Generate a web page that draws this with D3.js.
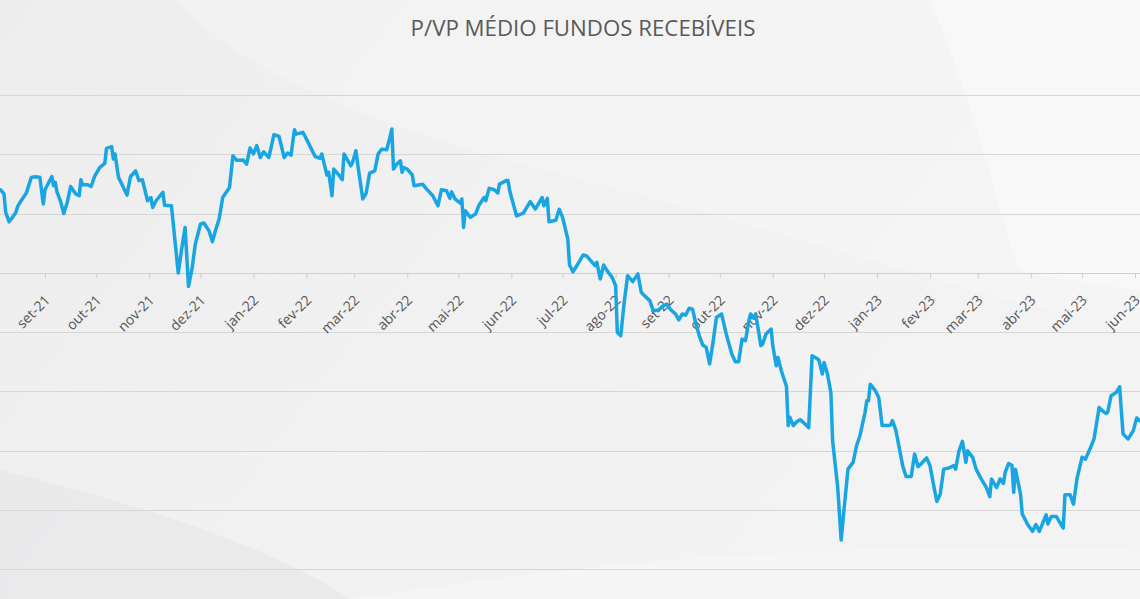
<!DOCTYPE html>
<html>
<head>
<meta charset="utf-8">
<script src="https://cdn.jsdelivr.net/npm/d3@7/dist/d3.min.js"></script>
<style>
  html, body { margin: 0; padding: 0; background: #efefef; overflow: hidden; }
  svg { display: block; }
</style>
</head>
<body>
<svg id="chart" width="1140" height="599"></svg>
<script>
// ---------------- DATA ----------------
const chartTitle = "P/VP MÉDIO FUNDOS RECEBÍVEIS";

const tickDates = [
  "2021-09-01","2021-10-01","2021-11-01","2021-12-01","2022-01-01","2022-02-01",
  "2022-03-01","2022-04-01","2022-05-01","2022-06-01","2022-07-01","2022-08-01",
  "2022-09-01","2022-10-01","2022-11-01","2022-12-01","2023-01-01","2023-02-01",
  "2023-03-01","2023-04-01","2023-05-01","2023-06-01"
];
const tickLabels = [
  "set-21","out-21","nov-21","dez-21","jan-22","fev-22","mar-22","abr-22","mai-22",
  "jun-22","jul-22","ago-22","set-22","out-22","nov-22","dez-22","jan-23","fev-23",
  "mar-23","abr-23","mai-23","jun-23"
];
const gridValues = [0.90, 0.92, 0.94, 0.96, 0.98, 1.00, 1.02, 1.04, 1.06];

const dates = [
  "2021-08-06","2021-08-08","2021-08-09","2021-08-11","2021-08-13","2021-08-15","2021-08-16","2021-08-18",
  "2021-08-21","2021-08-24","2021-08-26","2021-08-29","2021-08-31","2021-09-01","2021-09-05","2021-09-06",
  "2021-09-07","2021-09-08","2021-09-10","2021-09-12","2021-09-14","2021-09-16","2021-09-19","2021-09-21",
  "2021-09-22","2021-09-23","2021-09-26","2021-09-28","2021-09-30","2021-10-03","2021-10-06","2021-10-07",
  "2021-10-10","2021-10-11","2021-10-12","2021-10-14","2021-10-16","2021-10-19","2021-10-21","2021-10-24",
  "2021-10-26","2021-10-28","2021-10-31","2021-11-02","2021-11-03","2021-11-05","2021-11-09","2021-11-10",
  "2021-11-14","2021-11-18","2021-11-20","2021-11-22","2021-11-24","2021-11-26","2021-11-28","2021-12-01",
  "2021-12-03","2021-12-06","2021-12-08","2021-12-10","2021-12-12","2021-12-14","2021-12-18","2021-12-20",
  "2021-12-22","2021-12-26","2021-12-28","2021-12-30","2022-01-01","2022-01-03","2022-01-05","2022-01-07",
  "2022-01-10","2022-01-13","2022-01-16","2022-01-19","2022-01-21","2022-01-23","2022-01-25","2022-01-26",
  "2022-01-30","2022-02-02","2022-02-06","2022-02-09","2022-02-10","2022-02-13","2022-02-14","2022-02-16",
  "2022-02-17","2022-02-20","2022-02-22","2022-02-23","2022-02-27","2022-02-28","2022-03-02","2022-03-03",
  "2022-03-06","2022-03-08","2022-03-10","2022-03-13","2022-03-15","2022-03-17","2022-03-20","2022-03-22",
  "2022-03-23","2022-03-24","2022-03-26","2022-03-28","2022-03-29","2022-03-30","2022-04-01","2022-04-04",
  "2022-04-05","2022-04-10","2022-04-12","2022-04-16","2022-04-19","2022-04-21","2022-04-24","2022-04-26",
  "2022-04-27","2022-04-29","2022-05-02","2022-05-03","2022-05-04","2022-05-05","2022-05-08","2022-05-11",
  "2022-05-13","2022-05-16","2022-05-17","2022-05-19","2022-05-22","2022-05-24","2022-05-25","2022-05-29",
  "2022-05-30","2022-05-31","2022-06-04","2022-06-08","2022-06-12","2022-06-15","2022-06-19","2022-06-20",
  "2022-06-22","2022-06-23","2022-06-27","2022-06-29","2022-07-01","2022-07-04","2022-07-05","2022-07-07",
  "2022-07-09","2022-07-13","2022-07-15","2022-07-18","2022-07-20","2022-07-21","2022-07-23","2022-07-25",
  "2022-07-27","2022-07-30","2022-08-01","2022-08-02","2022-08-04","2022-08-06","2022-08-08","2022-08-11",
  "2022-08-14","2022-08-16","2022-08-18","2022-08-21","2022-08-23","2022-08-26","2022-08-29","2022-08-31",
  "2022-09-02","2022-09-05","2022-09-07","2022-09-09","2022-09-11","2022-09-13","2022-09-15","2022-09-17",
  "2022-09-19","2022-09-21","2022-09-23","2022-09-25","2022-09-27","2022-09-29","2022-10-02","2022-10-05",
  "2022-10-08","2022-10-10","2022-10-12","2022-10-14","2022-10-16","2022-10-18","2022-10-19","2022-10-21",
  "2022-10-22","2022-10-25","2022-10-26","2022-10-28","2022-10-31","2022-11-01","2022-11-03","2022-11-04",
  "2022-11-06","2022-11-09","2022-11-10","2022-11-11","2022-11-13","2022-11-15","2022-11-17","2022-11-20",
  "2022-11-22","2022-11-24","2022-11-27","2022-11-28","2022-11-30","2022-12-01","2022-12-03","2022-12-05",
  "2022-12-06","2022-12-09","2022-12-11","2022-12-13","2022-12-15","2022-12-18","2022-12-20","2022-12-22",
  "2022-12-25","2022-12-26","2022-12-27","2022-12-28","2022-12-31","2023-01-02","2023-01-04","2023-01-08",
  "2023-01-09","2023-01-10","2023-01-12","2023-01-13","2023-01-16","2023-01-18","2023-01-21","2023-01-23",
  "2023-01-25","2023-01-27","2023-01-30","2023-02-01","2023-02-03","2023-02-05","2023-02-07","2023-02-09",
  "2023-02-12","2023-02-15","2023-02-16","2023-02-18","2023-02-20","2023-02-22","2023-02-23","2023-02-26",
  "2023-02-28","2023-03-03","2023-03-06","2023-03-08","2023-03-09","2023-03-12","2023-03-14","2023-03-16",
  "2023-03-17","2023-03-19","2023-03-21","2023-03-22","2023-03-23","2023-03-26","2023-03-27","2023-03-30",
  "2023-04-02","2023-04-04","2023-04-06","2023-04-10","2023-04-11","2023-04-13","2023-04-16","2023-04-20",
  "2023-04-21","2023-04-24","2023-04-26","2023-04-28","2023-05-01","2023-05-03","2023-05-06","2023-05-08",
  "2023-05-11","2023-05-13","2023-05-15","2023-05-16","2023-05-18","2023-05-21","2023-05-23","2023-05-25",
  "2023-05-28","2023-05-31","2023-06-02","2023-06-04"
];

const pvp = [
  1.0280,1.0266,1.0204,1.0172,1.0187,1.0204,1.0224,1.0243,
  1.0268,1.0322,1.0324,1.0322,1.0232,1.0280,1.0325,1.0294,
  1.0305,1.0273,1.0243,1.0200,1.0237,1.0291,1.0266,1.0260,
  1.0314,1.0297,1.0297,1.0291,1.0325,1.0355,1.0369,1.0420,
  1.0426,1.0384,1.0401,1.0322,1.0299,1.0262,1.0324,1.0344,
  1.0311,1.0314,1.0243,1.0254,1.0220,1.0243,1.0271,1.0228,
  1.0226,0.9999,1.0080,1.0153,0.9954,1.0012,1.0097,1.0164,
  1.0168,1.0142,1.0105,1.0147,1.0183,1.0254,1.0288,1.0395,
  1.0380,1.0381,1.0367,1.0421,1.0401,1.0429,1.0389,1.0408,
  1.0389,1.0466,1.0460,1.0389,1.0404,1.0397,1.0483,1.0468,
  1.0474,1.0440,1.0393,1.0386,1.0401,1.0330,1.0339,1.0260,
  1.0350,1.0330,1.0314,1.0401,1.0361,1.0372,1.0412,1.0367,
  1.0249,1.0269,1.0336,1.0344,1.0401,1.0417,1.0415,1.0460,
  1.0485,1.0350,1.0367,1.0378,1.0339,1.0355,1.0350,1.0330,
  1.0294,1.0299,1.0285,1.0260,1.0226,1.0280,1.0277,1.0251,
  1.0273,1.0249,1.0235,1.0249,1.0153,1.0209,1.0187,1.0198,
  1.0228,1.0254,1.0243,1.0285,1.0280,1.0269,1.0299,1.0311,
  1.0311,1.0277,1.0192,1.0201,1.0240,1.0215,1.0254,1.0226,
  1.0251,1.0172,1.0177,1.0214,1.0186,1.0114,1.0027,1.0003,
  1.0021,1.0060,1.0057,1.0037,1.0024,1.0035,0.9979,1.0026,
  1.0007,0.9984,0.9956,0.9799,0.9787,0.9900,0.9990,0.9970,
  0.9996,0.9934,0.9922,0.9906,0.9872,0.9874,0.9889,0.9894,
  0.9877,0.9861,0.9841,0.9861,0.9857,0.9880,0.9877,0.9827,
  0.9787,0.9756,0.9748,0.9692,0.9765,0.9849,0.9861,0.9787,
  0.9726,0.9700,0.9700,0.9776,0.9771,0.9838,0.9861,0.9846,
  0.9861,0.9754,0.9759,0.9793,0.9810,0.9754,0.9686,0.9714,
  0.9669,0.9616,0.9484,0.9512,0.9484,0.9497,0.9504,0.9489,
  0.9477,0.9720,0.9710,0.9705,0.9658,0.9697,0.9658,0.9595,
  0.9433,0.9275,0.9098,0.9219,0.9337,0.9360,0.9416,0.9450,
  0.9529,0.9568,0.9568,0.9624,0.9602,0.9579,0.9484,0.9484,
  0.9487,0.9501,0.9469,0.9439,0.9349,0.9312,0.9312,0.9388,
  0.9345,0.9356,0.9375,0.9349,0.9287,0.9228,0.9253,0.9337,
  0.9341,0.9349,0.9337,0.9399,0.9431,0.9360,0.9399,0.9377,
  0.9337,0.9304,0.9275,0.9244,0.9304,0.9275,0.9304,0.9289,
  0.9326,0.9356,0.9349,0.9259,0.9337,0.9253,0.9186,0.9152,
  0.9127,0.9150,0.9127,0.9183,0.9152,0.9177,0.9177,0.9138,
  0.9251,0.9251,0.9219,0.9304,0.9377,0.9371,0.9410,0.9439,
  0.9545,0.9534,0.9525,0.9529,0.9585,0.9596,0.9615,0.9456,
  0.9439,0.9467,0.9510,0.9500
];

// ---------------- CHART ----------------
const W = 1140, H = 599;
const parse = d3.utcParse("%Y-%m-%d");
const series = dates.map((d, i) => ({ date: parse(d), value: pvp[i] }));

const svg = d3.select("#chart");

// background
const defs = svg.append("defs");
const g1 = defs.append("linearGradient").attr("id", "bgGrad")
  .attr("x1", "0").attr("y1", "0").attr("x2", "1").attr("y2", "0.4");
g1.append("stop").attr("offset", "0").attr("stop-color", "#ededee");
g1.append("stop").attr("offset", "0.5").attr("stop-color", "#f1f1f1");
g1.append("stop").attr("offset", "1").attr("stop-color", "#f3f3f3");
svg.append("rect").attr("width", W).attr("height", H).attr("fill", "url(#bgGrad)");

// soft decorative swooshes
svg.append("path")
  .attr("d", "M175,0 C260,90 420,140 620,190 C820,240 980,300 1140,330 L1140,0 Z")
  .attr("fill", "#ffffff").attr("opacity", 0.2);
svg.append("path")
  .attr("d", "M930,0 C980,120 1000,220 1020,270 C1060,280 1100,285 1140,290 L1140,0 Z")
  .attr("fill", "#ffffff").attr("opacity", 0.35);
svg.append("path")
  .attr("d", "M0,470 C120,500 260,540 350,599 L0,599 Z")
  .attr("fill", "#e4e4e6").attr("opacity", 0.5);
svg.append("path")
  .attr("d", "M350,599 C600,560 850,540 1140,550 L1140,599 Z")
  .attr("fill", "#ffffff").attr("opacity", 0.22);

const x = d3.scaleUtc()
  .domain([parse(tickDates[0]), parse(tickDates[tickDates.length - 1])])
  .range([45, 1135]);
const y = d3.scaleLinear().domain([0.90, 1.06]).range([569, 95]);

// gridlines
svg.append("g").selectAll("line").data(gridValues).join("line")
  .attr("x1", 0).attr("x2", W)
  .attr("y1", d => Math.round(y(d)) + 0.5).attr("y2", d => Math.round(y(d)) + 0.5)
  .attr("stroke", "#d6d6d6").attr("stroke-width", 1);

// x axis at P/VP = 1.00
const axisY = Math.round(y(1.00)) + 0.5;
const xAxis = d3.axisBottom(x)
  .tickValues(tickDates.map(parse))
  .tickFormat((d, i) => tickLabels[i])
  .tickSize(5).tickPadding(4);
const ax = svg.append("g").attr("transform", `translate(0,${axisY})`).call(xAxis);
ax.select(".domain").attr("stroke", "#cfcfcf").attr("d", `M0,0H${W}`);
ax.selectAll(".tick line").attr("stroke", "#cfcfcf");
ax.selectAll(".tick text")
  .attr("fill", "#555555")
  .style("font-family", "'Open Sans', 'Noto Sans', sans-serif")
  .style("font-size", "14px")
  .attr("text-anchor", "end")
  .attr("dy", "0.35em")
  .attr("transform", "translate(2,24) rotate(-45)")
  .attr("x", 0).attr("y", 0);

// line
const line = d3.line().x(d => x(d.date)).y(d => y(d.value));
svg.append("path").datum(series)
  .attr("d", line)
  .attr("fill", "none")
  .attr("stroke", "#19a5e1")
  .attr("stroke-width", 3.5)
  .attr("stroke-linejoin", "round")
  .attr("stroke-linecap", "round");

// title
const t = svg.append("text")
  .attr("x", 583).attr("y", 36)
  .attr("text-anchor", "middle")
  .attr("fill", "#595959")
  .style("font-family", "'Open Sans', 'Noto Sans', sans-serif")
  .style("font-size", "20px")
  .text(chartTitle);
const tw = t.node().getComputedTextLength();
t.style("font-size", (20 * 345 / tw).toFixed(2) + "px");
</script>
</body>
</html>
